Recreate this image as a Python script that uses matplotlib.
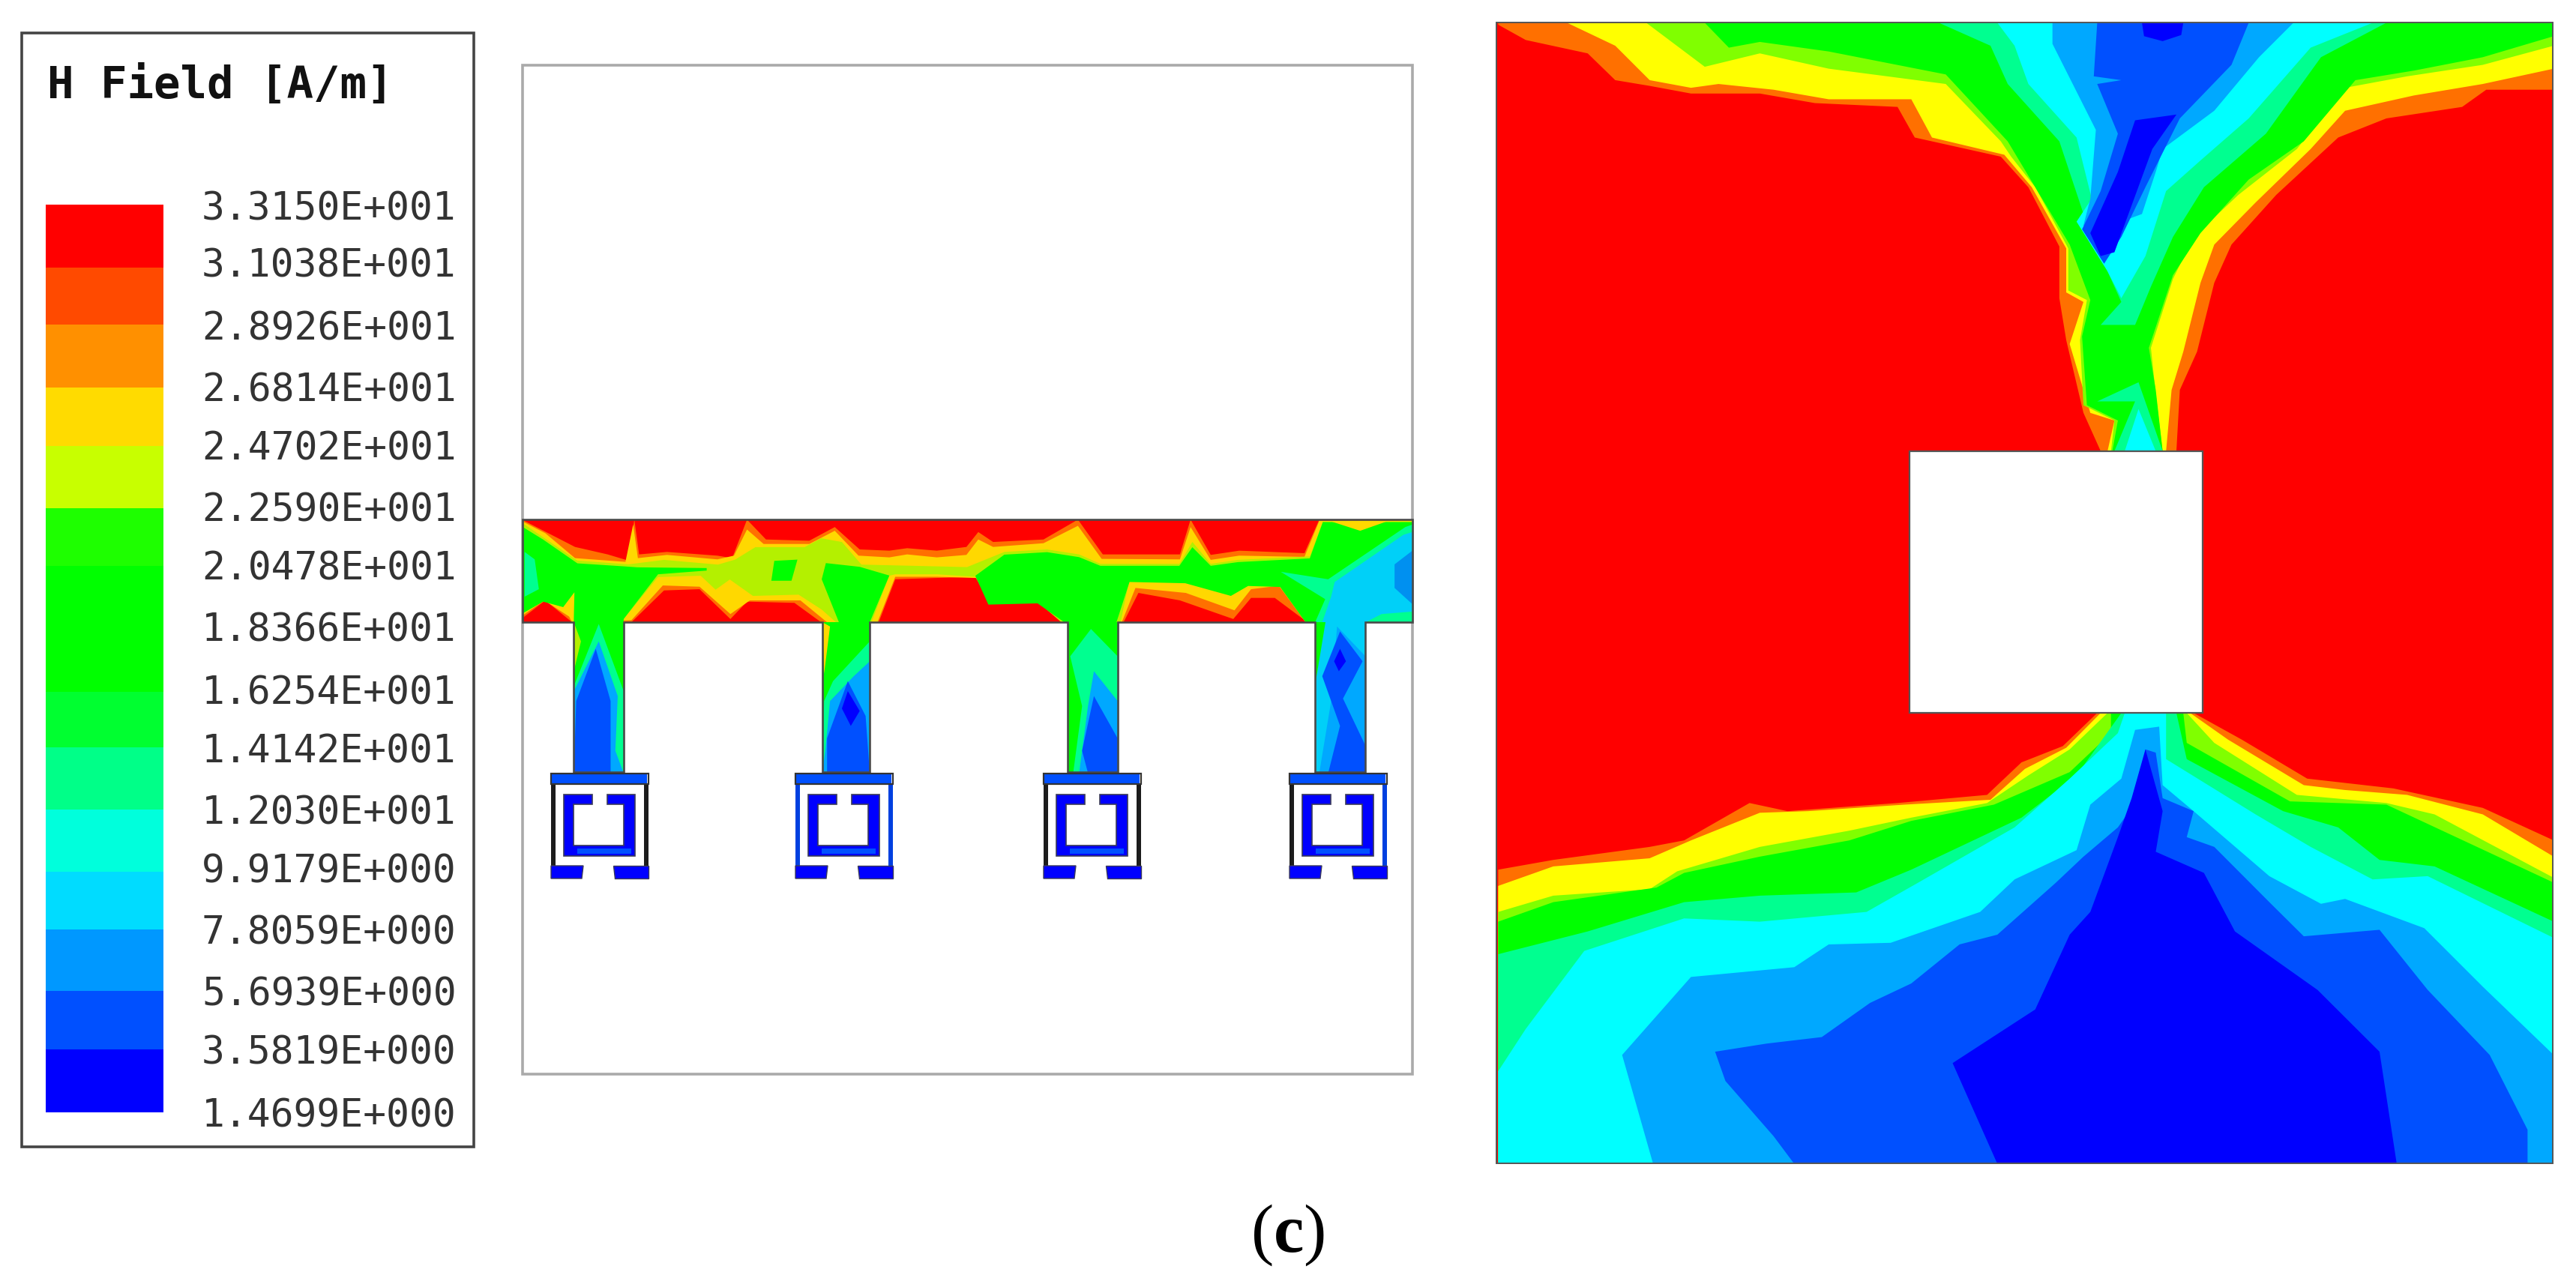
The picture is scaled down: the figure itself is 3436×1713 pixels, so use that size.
#!/usr/bin/env python3

import numpy as np
import matplotlib
matplotlib.use('Agg')
import matplotlib.pyplot as plt
from matplotlib.patches import PathPatch, Polygon, Rectangle
from matplotlib.path import Path

plt.rcParams['mathtext.fontset'] = 'custom'
plt.rcParams['mathtext.rm'] = 'Liberation Serif'
plt.rcParams['mathtext.bf'] = 'Liberation Serif:bold'

# Legend
legend_title = 'H Field [A/m]'
legend_labels = ['3.3150E+001', '3.1038E+001', '2.8926E+001', '2.6814E+001',
                 '2.4702E+001', '2.2590E+001', '2.0478E+001', '1.8366E+001',
                 '1.6254E+001', '1.4142E+001', '1.2030E+001', '9.9179E+000',
                 '7.8059E+000', '5.6939E+000', '3.5819E+000', '1.4699E+000']
legend_label_y = [279, 356, 439, 521, 599, 682, 760, 842,
                  925, 1003, 1085, 1164, 1245, 1327, 1405, 1489]
legend_band_edges = [273, 357, 433, 517, 595, 678, 755, 840,
                     923, 997, 1080, 1163, 1240, 1322, 1400, 1484]
legend_colors = ['#ff0000', '#ff4a00', '#ff9000', '#ffdb00', '#c8ff00',
                 '#1eff00', '#00ff00', '#00ff00', '#00ff30', '#00ff88',
                 '#00ffdc', '#00dcff', '#0098ff', '#0050ff', '#0000ff']

# First crop: x 1980 + 0.9184 u, y 10 + 0.5102 v
top_orange = [(20, 40), (20, 45), (60, 85), (150, 120), (190, 190), (240, 205), (300, 225), (400, 225),
              (480, 250), (600, 260), (625, 340), (750, 390), (790, 470), (835, 625), (835, 760),
              (845, 870), (870, 1060), (895, 1160), (1005, 1160), (1010, 1000), (1035, 900), (1060, 720),
              (1085, 620), (1150, 490), (1240, 340), (1310, 290), (1420, 260), (1455, 215), (1553, 215), (1553, 40)]
top_yellow = [(120, 40), (190, 100), (240, 190), (300, 210), (340, 200), (420, 215), (500, 240), (620, 240),
              (650, 340), (755, 385), (795, 470), (845, 630), (845, 745), (870, 770), (850, 880), (880, 1060),
              (915, 1080), (905, 1160), (990, 1160), (998, 1000), (1015, 900), (1040, 720), (1060, 620),
              (1120, 510), (1200, 370), (1250, 270), (1350, 230), (1450, 200), (1553, 160), (1553, 40)]
top_lime = [(235, 40), (320, 155), (400, 120), (500, 160), (670, 200), (750, 350), (765, 390), (800, 470),
            (848, 630), (848, 740), (875, 765), (865, 870), (870, 1040), (915, 1080), (910, 1160), (985, 1160),
            (975, 1010), (968, 890), (1000, 710), (1030, 600), (1095, 490), (1180, 370), (1250, 210),
            (1340, 180), (1450, 150), (1553, 100), (1553, 40)]
top_green = [(320, 40), (355, 105), (400, 90), (500, 115), (670, 175), (760, 350), (800, 470), (850, 620),
             (880, 765), (868, 860), (875, 1040), (920, 1080), (912, 1160), (985, 1160), (975, 1000),
             (965, 890), (1000, 700), (1040, 590), (1110, 450), (1190, 350), (1265, 190), (1350, 165),
             (1450, 130), (1553, 75), (1553, 40)]
top_spring = [(660, 40), (735, 100), (760, 200), (835, 350), (872, 550), (905, 690), (925, 770), (895, 830), (945, 830),
              (968, 730), (1000, 600), (1045, 470), (1135, 330), (1215, 130), (1310, 40)]
top_spring_neck = [(915, 1160), (945, 1030), (890, 1030), (950, 980), (985, 1160)]
top_cyan = [(745, 40), (770, 100), (790, 200), (860, 340), (882, 500), (860, 560), (905, 690), (925, 760), (960, 650),
            (990, 480), (1040, 400), (1110, 290), (1200, 105), (1290, 40)]
top_cyan_neck = [(930, 1160), (950, 1050), (975, 1160)]
top_azure = [(825, 40), (825, 95), (888, 320), (880, 500), (870, 570), (900, 660), (925, 560), (955, 540),
             (975, 430), (985, 370), (1060, 270), (1125, 130), (1175, 40)]
top_mid = [(890, 40), (885, 180), (925, 190), (890, 200), (920, 330), (895, 480), (868, 580), (900, 670),
           (925, 600), (960, 470), (1010, 290), (1085, 150), (1110, 40)]
top_blue = [(945, 295), (1005, 280), (970, 370), (915, 640), (895, 650), (880, 590), (920, 430)]
top_blue_cap = [(955, 40), (958, 75), (985, 88), (1012, 72), (1015, 40)]

# Second crop: x 1980 + 0.9184 u, y 900 + 0.4337 v
bot_orange = [(20, 600), (100, 570), (240, 530), (290, 510), (385, 395), (440, 420), (600, 395), (730, 370),
              (780, 270), (840, 220), (890, 118), (1030, 118), (1100, 200), (1195, 320), (1320, 350),
              (1450, 410), (1553, 510), (1553, 1505), (20, 1505)]
bot_yellow = [(20, 650), (100, 590), (240, 565), (300, 510), (400, 425), (470, 420), (610, 400), (735, 385),
              (785, 290), (845, 225), (895, 118), (1025, 118), (1080, 200), (1190, 340), (1250, 355),
              (1340, 370), (1450, 430), (1553, 560), (1553, 1505), (20, 1505)]
bot_lime = [(20, 730), (100, 680), (240, 660), (280, 605), (400, 530), (530, 480), (620, 440), (730, 395),
            (790, 310), (850, 230), (905, 118), (1020, 118), (1060, 210), (1180, 370), (1310, 395),
            (1380, 430), (1553, 625), (1553, 1505), (20, 1505)]
bot_green = [(20, 760), (100, 700), (250, 655), (290, 610), (400, 560), (530, 510), (620, 450), (740, 400),
             (850, 300), (910, 180), (910, 118), (1015, 118), (1020, 210), (1170, 390), (1310, 400),
             (1553, 640), (1553, 1505), (20, 1505)]
bot_spring = [(20, 860), (150, 790), (290, 700), (400, 680), (540, 670), (620, 600), (780, 440), (860, 310),
              (925, 118), (1005, 118), (1020, 260), (1160, 420), (1240, 470), (1300, 570), (1380, 590),
              (1553, 760), (1553, 1505), (20, 1505)]
bot_cyan = [(20, 1220), (60, 1090), (145, 850), (290, 750), (400, 760), (555, 730), (630, 640), (770, 470),
            (850, 320), (920, 180), (930, 118), (990, 118), (990, 260), (1120, 430), (1200, 530), (1290, 630),
            (1370, 620), (1553, 810), (1553, 1505), (20, 1505)]
bot_azure = [(200, 1170), (300, 930), (450, 900), (500, 830), (590, 825), (720, 730), (770, 630), (860, 540),
             (880, 400), (925, 320), (945, 170), (980, 160), (985, 340), (1030, 420), (1140, 620), (1215, 705),
             (1250, 690), (1365, 780), (1450, 960), (1553, 1170), (1553, 1505), (245, 1505)]
bot_mid = [(335, 1160), (410, 1135), (490, 1115), (560, 1010), (620, 950), (690, 830), (745, 800), (830, 640),
           (870, 560), (920, 470), (950, 380), (960, 230), (975, 240), (985, 380), (1030, 420), (1020, 500),
           (1060, 530), (1140, 700), (1190, 805), (1300, 785), (1370, 970), (1460, 1170), (1515, 1400),
           (1515, 1505), (450, 1505), (420, 1420), (350, 1250)]
bot_blue = [(680, 1195), (800, 1030), (850, 800), (880, 730), (920, 500), (940, 380), (960, 230), (985, 420),
            (975, 545), (1045, 610), (1090, 790), (1130, 850), (1210, 970), (1300, 1160), (1325, 1505), (745, 1505)]

# Field outlines of the middle panel, third crop: x 680 + 0.791 u, y 670 + 0.3316 v
band_orange = [(22, 72), (110, 180), (165, 210), (200, 235), (210, 70), (218, 210), (265, 200), (350, 215),
               (375, 225), (400, 70), (432, 150), (505, 155), (548, 100), (590, 190), (640, 195), (670, 185),
               (720, 195), (770, 180), (790, 120), (815, 160), (900, 150), (958, 70), (1000, 210), (1130, 210),
               (1148, 70), (1182, 212), (1230, 195), (1340, 205), (1365, 70), (1522, 70), (1522, 483),
               (1345, 483), (1290, 385), (1250, 385), (1220, 470), (1130, 395), (1060, 365), (1035, 483),
               (940, 483), (890, 400), (810, 405), (785, 300), (650, 310), (622, 483), (525, 483), (480, 405),
               (400, 400), (372, 470), (320, 350), (260, 355), (205, 483), (105, 483), (60, 395), (22, 465)]
band_gold = [(22, 78), (60, 125), (110, 225), (195, 240), (208, 90), (216, 225), (265, 212), (350, 230),
             (378, 215), (400, 110), (428, 168), (505, 168), (548, 115), (588, 215), (640, 222), (670, 210),
             (720, 222), (770, 212), (790, 150), (815, 180), (900, 165), (958, 95), (998, 228), (1130, 230),
             (1148, 100), (1182, 232), (1230, 215), (1340, 220), (1365, 75), (1522, 72), (1522, 483),
             (1342, 483), (1297, 336), (1250, 350), (1222, 435), (1140, 365), (1055, 345), (1032, 483),
             (935, 483), (893, 403), (808, 407), (787, 305), (720, 300), (650, 300), (620, 483), (535, 483),
             (490, 395), (405, 395), (372, 450), (320, 340), (258, 335), (205, 475), (105, 483), (100, 460),
             (58, 395), (22, 455)]
band_lime = [(22, 85), (114, 235), (200, 250), (260, 232), (351, 251), (380, 231), (414, 181), (497, 181),
             (525, 145), (560, 160), (593, 251), (771, 261), (834, 200), (906, 190), (960, 210), (996, 248),
             (1129, 248), (1151, 160), (1182, 248), (1228, 232), (1349, 218), (1371, 78), (1522, 78),
             (1522, 483), (1345, 483), (1299, 332), (1245, 328), (1216, 368), (1139, 316), (1045, 312),
             (1030, 483), (930, 483), (890, 400), (810, 400), (785, 300), (720, 290), (650, 290), (640, 296),
             (610, 483), (550, 483), (526, 432), (487, 372), (410, 377), (371, 311), (347, 352), (322, 296),
             (250, 301), (192, 470), (192, 483), (108, 483), (109, 362), (90, 422), (56, 395), (22, 440)]
band_green_a = [(22, 100), (56, 150), (114, 246), (192, 258), (215, 262), (332, 265), (332, 275), (250, 290),
                (192, 470), (192, 483), (108, 483), (108, 470), (109, 362), (90, 422), (56, 400), (22, 447)]
band_green_b = [(446, 236), (485, 231), (475, 316), (441, 316)]
band_green_c = [(533, 245), (590, 260), (640, 295), (607, 483), (555, 483), (526, 310)]
band_green_d = [(785, 296), (834, 211), (906, 201), (960, 221), (996, 256), (1129, 256), (1151, 181), (1182, 256),
                (1228, 241), (1349, 226), (1371, 80), (1522, 80), (1522, 483), (1342, 483), (1299, 341),
                (1245, 337), (1216, 377), (1139, 326), (1045, 321), (1023, 483), (935, 483), (890, 407), (807, 412)]
band_spring_left = [(25, 200), (42, 230), (49, 350), (25, 380)]
band_spring_right = [(1300, 280), (1380, 310), (1510, 100), (1522, 90), (1522, 483), (1358, 483), (1375, 390)]
band_sky_right = [(1391, 321), (1507, 131), (1522, 120), (1522, 440), (1470, 450), (1443, 483), (1370, 483), (1385, 380)]
band_azure_right = [(1522, 195), (1492, 250), (1492, 345), (1522, 410)]
band_gold_top = [(1386, 78), (1478, 78), (1434, 115)]

# Stems: (colour name, outline)
stem_patches = [
    ('lime', [(108, 483), (120, 560), (108, 680)]),
    ('spring', [(150, 490), (192, 760), (192, 1090), (108, 1090), (108, 740)]),
    ('azure', [(150, 560), (182, 780), (178, 1000), (192, 1090), (108, 1090), (108, 760)]),
    ('mid', [(145, 590), (170, 800), (170, 1090), (108, 1090), (112, 800)]),
    ('gold', [(527, 483), (540, 500), (530, 690)]),
    ('spring', [(607, 560), (545, 720), (530, 800), (527, 1090), (607, 1090)]),
    ('azure', [(607, 640), (580, 700), (540, 800), (532, 1000), (527, 1090), (607, 1090)]),
    ('mid', [(570, 720), (600, 860), (607, 1090), (535, 1090), (535, 950)]),
    ('blue', [(570, 760), (590, 840), (575, 900), (560, 830)]),
    ('spring', [(980, 510), (1025, 620), (1025, 1090), (950, 1090), (965, 820), (945, 620)]),
    ('azure', [(985, 680), (1025, 800), (1025, 1090), (960, 1090), (975, 820)]),
    ('mid', [(985, 780), (1025, 950), (1025, 1090), (975, 1090), (965, 1000)]),
    ('sky', [(1375, 483), (1443, 483), (1443, 1090), (1358, 1090), (1358, 740)]),
    ('azure', [(1395, 500), (1443, 620), (1443, 1090), (1365, 1090), (1385, 800)]),
    ('mid', [(1400, 520), (1438, 640), (1405, 790), (1443, 980), (1443, 1090), (1380, 1090), (1400, 900), (1370, 700)]),
    ('blue', [(1400, 590), (1410, 640), (1398, 680), (1390, 640)]),
]

# Conductor geometry, third crop coordinates
band_top, band_bottom = 68, 483
band_left, band_right = 22, 1522
stem_lefts = [108, 527, 940, 1358]
stem_rights = [192, 607, 1025, 1443]
# Resonator cells in pixels
cell_lefts = [735, 1061, 1392, 1720]
cell_side_colors = [('#1c1c1c', '#1c1c1c'), ('#0040e0', '#0040e0'), ('#1c1c1c', '#1c1c1c'), ('#1c1c1c', '#0040e0')]

colors = {'orange': '#ff7000', 'yellow': '#ffff00', 'gold': '#ffd800', 'lime': '#b4f000',
          'lime2': '#80ff00', 'green': '#00ff00', 'spring': '#00ff90', 'cyan': '#00ffff',
          'sky': '#00d0f8', 'azure': '#00a8ff', 'mid': '#0050ff', 'blue': '#0000ff'}


def crop_xy(points, x0, y0, sx, sy):
    pts = np.array(points, dtype=float)
    return np.column_stack((x0 + pts[:, 0] * sx, y0 + pts[:, 1] * sy))


def from_top(points):
    return crop_xy(points, 1980, 10, 0.9184, 0.5102)


def from_bottom(points):
    return crop_xy(points, 1980, 900, 0.9184, 0.4337)


def from_mid(points):
    return crop_xy(points, 680, 670, 0.791, 0.3316)


def fill(ax, xy, color, clip=None, zorder=2):
    patch = Polygon(xy, closed=True, facecolor=color, edgecolor='none', zorder=zorder)
    ax.add_patch(patch)
    if clip is not None:
        patch.set_clip_path(clip)
    return patch


def draw_legend(ax):
    ax.add_patch(Rectangle((29, 44), 603, 1486, facecolor='white', edgecolor='#444444', lw=2.6))
    ax.text(63, 114, legend_title, family='DejaVu Sans Mono', weight='bold', fontsize=42.5,
            color='#111111', va='center', ha='left')
    tops = np.array(legend_band_edges[:-1])
    bottoms = np.array(legend_band_edges[1:])
    ax.bar(139.5 * np.ones_like(tops), bottoms - tops, width=157, bottom=tops,
           color=legend_colors, linewidth=0)
    for label, y in zip(legend_labels, legend_label_y):
        ax.text(269, y, label, family='DejaVu Sans Mono', fontsize=37, color='#333333',
                va='center', ha='left')


def conductor_path():
    # Feed band with its four stems, going round clockwise in crop coordinates.
    pts = [(band_left, band_top), (band_right, band_top), (band_right, band_bottom)]
    for left, right in zip(stem_lefts[::-1], stem_rights[::-1]):
        pts += [(right, band_bottom), (right, 1085), (left, 1085), (left, band_bottom)]
    pts.append((band_left, band_bottom))
    xy = from_mid(pts)
    return Path(np.vstack((xy, xy[0])), closed=True)


def draw_cell(ax, left, side_colors):
    # Everything is relative to the left edge of the first cell.
    dx = left - 735
    top_bar = [(735, 1032), (863, 1032), (863, 1046), (735, 1046)]
    fill(ax, np.array(top_bar) + (dx, 0), colors['mid'], zorder=3)
    ax.add_patch(Rectangle((left, 1032), 130, 14, facecolor='none', edgecolor='#333333', lw=1.6, zorder=6))
    ax.add_patch(Rectangle((left, 1046), 6, 110, facecolor=side_colors[0], zorder=4))
    ax.add_patch(Rectangle((left + 124, 1046), 6, 110, facecolor=side_colors[1], zorder=4))

    ring = [(752, 1060), (790, 1060), (790, 1073), (765, 1073), (765, 1128), (832, 1128), (832, 1073),
            (810, 1073), (810, 1060), (847, 1060), (847, 1142), (752, 1142)]
    ring_xy = np.array(ring) + (dx, 0)
    ax.add_patch(Polygon(ring_xy, closed=True, facecolor=colors['blue'], edgecolor='#3a3a5a', lw=1.2, zorder=4))
    inner = [(770, 1132), (842, 1132), (842, 1139), (770, 1139)]
    fill(ax, np.array(inner) + (dx, 0), colors['mid'], zorder=5)

    for foot in ([(735, 1155), (778, 1155), (776, 1172), (735, 1172)],
                 [(818, 1155), (865, 1155), (865, 1172), (820, 1172)]):
        ax.add_patch(Polygon(np.array(foot) + (dx, 0), closed=True, facecolor=colors['blue'],
                             edgecolor='#3a3a5a', lw=1.0, zorder=4))


def draw_middle(ax):
    ax.add_patch(Rectangle((697, 87), 1187, 1346, facecolor='white', edgecolor='#aaaaaa', lw=2.6, zorder=1))

    body = PathPatch(conductor_path(), facecolor='#ff0000', edgecolor='none', zorder=2)
    ax.add_patch(body)
    fill(ax, from_mid(band_orange), colors['orange'], clip=body)
    fill(ax, from_mid(band_gold), colors['gold'], clip=body)
    fill(ax, from_mid(band_lime), colors['lime'], clip=body)
    for outline in (band_green_a, band_green_b, band_green_c, band_green_d):
        fill(ax, from_mid(outline), colors['green'], clip=body)
    fill(ax, from_mid(band_spring_left), colors['spring'], clip=body)
    fill(ax, from_mid(band_spring_right), colors['spring'], clip=body)
    fill(ax, from_mid(band_sky_right), colors['sky'], clip=body)
    fill(ax, from_mid(band_azure_right), '#0090f0', clip=body)
    fill(ax, from_mid(band_gold_top), colors['gold'], clip=body)

    # The stems start out green above the blue wedges
    for left, right in zip(stem_lefts, stem_rights):
        fill(ax, from_mid([(left, band_bottom), (right, band_bottom), (right, 1090), (left, 1090)]),
             colors['green'], clip=body)
    for name, outline in stem_patches:
        fill(ax, from_mid(outline), colors[name], clip=body)

    ax.add_patch(PathPatch(conductor_path(), facecolor='none', edgecolor='#4a4a4a', lw=1.9, zorder=5))

    for left, side_colors in zip(cell_lefts, cell_side_colors):
        draw_cell(ax, left, side_colors)


def draw_right(ax):
    ax.add_patch(Rectangle((1996, 30), 1409, 1522, facecolor='#ff0000', edgecolor='none', zorder=1))
    panel = Rectangle((1996, 30), 1409, 1522, transform=ax.transData)

    top_layers = [(top_orange, 'orange'), (top_yellow, 'yellow'), (top_lime, 'lime2'), (top_green, 'green'),
                  (top_spring, 'spring'), (top_spring_neck, 'spring'), (top_cyan, 'cyan'),
                  (top_cyan_neck, 'cyan'), (top_azure, 'azure'), (top_mid, 'mid'), (top_blue, 'blue'),
                  (top_blue_cap, 'blue')]
    for outline, name in top_layers:
        fill(ax, from_top(outline), colors[name], clip=panel)

    bot_layers = [(bot_orange, 'orange'), (bot_yellow, 'yellow'), (bot_lime, 'lime2'), (bot_green, 'green'),
                  (bot_spring, 'spring'), (bot_cyan, 'cyan'), (bot_azure, 'azure'), (bot_mid, 'mid'),
                  (bot_blue, 'blue')]
    for outline, name in bot_layers:
        fill(ax, from_bottom(outline), colors[name], clip=panel)

    ax.add_patch(Rectangle((2547, 602), 391, 349, facecolor='white', edgecolor='#555555', lw=1.6, zorder=5))
    ax.add_patch(Rectangle((1996, 30), 1409, 1522, facecolor='none', edgecolor='#555555', lw=1.4, zorder=5))


def main():
    fig = plt.figure(figsize=(34.37, 17.13), dpi=100)
    ax = fig.add_axes([0, 0, 1, 1])
    ax.set_xlim(0, 3437)
    ax.set_ylim(1713, 0)
    ax.axis('off')

    draw_legend(ax)
    draw_middle(ax)
    draw_right(ax)

    ax.text(1718, 1670, r'($\mathbf{c}$)', family='Liberation Serif', fontsize=65.5,
            color='black', ha='center', va='baseline')

    fig.savefig('out.png', dpi=100)


if __name__ == '__main__':
    main()
